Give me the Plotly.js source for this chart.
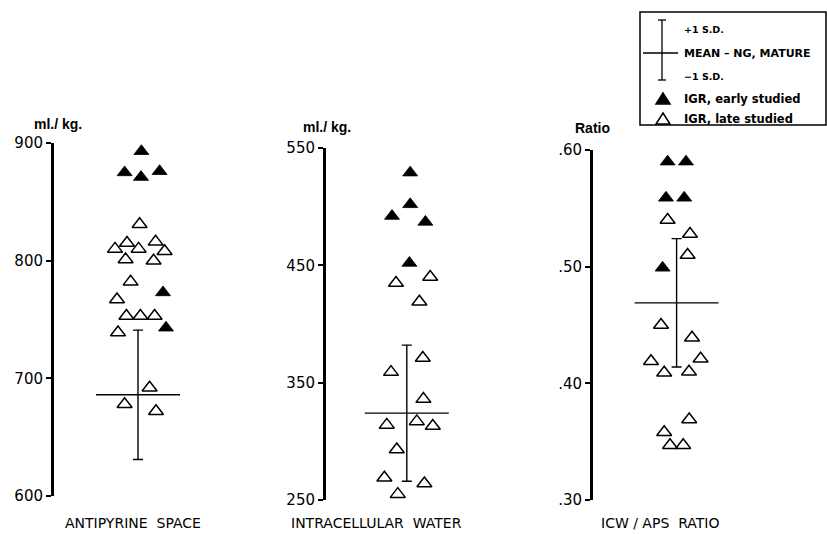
<!DOCTYPE html>
<html><head><meta charset="utf-8">
<script src="https://cdn.plot.ly/plotly-3.0.1.min.js"></script>
<style>html,body{margin:0;padding:0;background:#fff}#chart{width:827px;height:534px}</style>
</head><body><div id="chart"></div>
<script>
// ---------- DATA ----------
const panelTitles = ["ANTIPYRINE\u00a0 SPACE", "INTRACELLULAR\u00a0 WATER", "ICW\u00a0/\u00a0APS\u00a0 RATIO"];
const unitLabels = ["ml./ kg.", "ml./ kg.", "Ratio"];

// Antipyrine space (ml/kg)
const apsEarlyX = [0.17, -0.67, 0.15, 1.08, 1.25, 1.40];
const apsEarlyY = [893, 875, 871, 876, 773, 743];
const apsLateX = [0.08, -0.55, -1.15, 0.03, 0.88, 1.33, -0.62, 0.78, -0.37, -1.05, -0.58, 0.12, 0.83, -1.00, 0.58, -0.67, 0.90];
const apsLateY = [831, 815, 810, 810, 816, 808, 801, 800, 782, 767, 753, 753, 753, 739, 692, 678, 672];
const apsMean = 686, apsSD = 55;
const apsTicks = [600, 700, 800, 900];
const apsTickText = ["600", "700", "800", "900"];

// Intracellular water (ml/kg)
const icwEarlyX = [0.17, 0.17, -0.74, 0.93, 0.13];
const icwEarlyY = [529, 502, 492, 487, 452];
const icwLateX = [-0.54, 1.17, 0.63, 0.80, -0.79, 0.83, -1.00, 0.50, 1.30, -0.50, -1.12, 0.88, -0.45];
const icwLateY = [435, 440, 419, 371, 359, 336, 314, 317, 313, 293, 269, 264, 255];
const icwMean = 324, icwSD = 58;
const icwTicks = [250, 350, 450, 550];
const icwTickText = ["250", "350", "450", "550"];

// ICW / APS ratio
const ratioEarlyX = [-0.45, 0.47, -0.53, 0.38, -0.70];
const ratioEarlyY = [0.590, 0.590, 0.559, 0.559, 0.499];
const ratioLateX = [-0.45, 0.67, 0.55, -0.78, 0.77, -1.28, 1.20, -0.62, 0.62, 0.63, -0.62, -0.33, 0.33];
const ratioLateY = [0.540, 0.528, 0.510, 0.450, 0.439, 0.419, 0.421, 0.409, 0.410, 0.369, 0.358, 0.347, 0.347];
const ratioMean = 0.469, ratioSD = 0.055;
const ratioTicks = [0.30, 0.40, 0.50, 0.60];
const ratioTickText = [".30", ".40", ".50", ".60"];

const legendLabels = ["+1 S.D.", "MEAN \u2013 NG, MATURE", "\u22121 S.D.", "IGR, early studied", "IGR, late studied"];

// ---------- BUILD ----------
const W = 827, H = 534;
const px = x => x / W;
const py = y => 1 - y / H;
const FONT = "DejaVu Sans, Liberation Sans, Arial, sans-serif";

const panels = [
  {early:[apsEarlyX, apsEarlyY], late:[apsLateX, apsLateY], mean:apsMean, sd:apsSD, ticks:apsTicks, tt:apsTickText, range:[600,900],
   xdom:[54,254], ydom:[143,496], center:4.2},
  {early:[icwEarlyX, icwEarlyY], late:[icwLateX, icwLateY], mean:icwMean, sd:icwSD, ticks:icwTicks, tt:icwTickText, range:[250,550],
   xdom:[326,526], ydom:[148,500], center:4.04},
  {early:[ratioEarlyX, ratioEarlyY], late:[ratioLateX, ratioLateY], mean:ratioMean, sd:ratioSD, ticks:ratioTicks, tt:ratioTickText, range:[0.30,0.60],
   xdom:[593,793], ydom:[150,500], center:4.18}
];

const traces = [];
const layout = {
  width: W, height: H,
  margin: {l:0, r:0, t:0, b:0, pad:0},
  paper_bgcolor: "#fff", plot_bgcolor: "rgba(0,0,0,0)",
  showlegend: false,
  font: {family: FONT, color: "#000"},
  annotations: [], shapes: []
};

panels.forEach((p, i) => {
  const sfx = i === 0 ? "" : String(i + 1);
  const xa = "x" + sfx, ya = "y" + sfx;
  traces.push({
    type: "scatter", mode: "markers", xaxis: xa, yaxis: ya,
    x: [0], y: [p.mean],
    marker: {symbol: "line-ew-open", size: 60, color: "#000", line: {width: 1.4, color: "#000"}},
    error_y: {type: "data", array: [p.sd], visible: true, color: "#000", thickness: 1.4, width: 5},
    cliponaxis: false, hoverinfo: "skip"
  });
  traces.push({
    type: "scatter", mode: "markers", xaxis: xa, yaxis: ya,
    x: p.late[0], y: p.late[1],
    marker: {symbol: "triangle-up-open", size: 13, color: "#000", line: {width: 1.5, color: "#000"}},
    cliponaxis: false
  });
  traces.push({
    type: "scatter", mode: "markers", xaxis: xa, yaxis: ya,
    x: p.early[0], y: p.early[1],
    marker: {symbol: "triangle-up", size: 13, color: "#000", line: {width: 0.8, color: "#000"}},
    cliponaxis: false
  });
  layout["xaxis" + sfx] = {
    domain: [px(p.xdom[0]), px(p.xdom[1])], range: [-p.center, 10 - p.center],
    visible: false, fixedrange: true, anchor: ya
  };
  layout["yaxis" + sfx] = {
    domain: [py(p.ydom[1]), py(p.ydom[0])], range: p.range, anchor: xa,
    showline: true, linewidth: 3, linecolor: "#000", mirror: false,
    ticks: "outside", ticklen: 5, tickwidth: 2, tickcolor: "#000",
    tickvals: p.ticks, ticktext: p.tt, tickfont: {family: FONT, size: 15, color: "#000"},
    showgrid: false, zeroline: false, fixedrange: true
  };
});

// axis unit labels and bottom titles
const unitPos = [[58, 124], [327, 127], [592, 128]];
unitLabels.forEach((t, i) => {
  layout.annotations.push({text: "<b>" + t + "</b>", xref: "paper", yref: "paper", x: px(unitPos[i][0]), y: py(unitPos[i][1]),
    showarrow: false, xanchor: "center", yanchor: "middle", font: {family: "Liberation Sans, Arial, sans-serif", size: 14, color: "#000"}});
});
const titlePos = [[133, 523], [376, 523], [660, 523]];
panelTitles.forEach((t, i) => {
  layout.annotations.push({text: t, xref: "paper", yref: "paper", x: px(titlePos[i][0]), y: py(titlePos[i][1]),
    showarrow: false, xanchor: "center", yanchor: "middle", font: {family: FONT, size: 14, color: "#000"}});
});

// legend box
const L = (x0, y0, x1, y1, w) => ({type: "line", xref: "paper", yref: "paper", x0: px(x0), y0: py(y0), x1: px(x1), y1: py(y1), line: {color: "#000", width: w}});
layout.shapes.push({type: "rect", xref: "paper", yref: "paper", x0: px(640), y0: py(125), x1: px(826), y1: py(12), line: {color: "#000", width: 1.5}});
layout.shapes.push(L(662, 20, 662, 80, 1.3));
layout.shapes.push(L(658, 20, 666, 20, 1.3));
layout.shapes.push(L(658, 80, 666, 80, 1.3));
layout.shapes.push(L(643, 53, 678, 53, 1.3));
const tri = (cx, cy, filled) => ({
  type: "path", xref: "paper", yref: "paper",
  path: `M ${px(cx-7)},${py(cy+5)} L ${px(cx+7)},${py(cy+5)} L ${px(cx)},${py(cy-6)} Z`,
  fillcolor: filled ? "#000" : "rgba(0,0,0,0)", line: {color: "#000", width: 1.5}
});
layout.shapes.push(tri(663, 99, true));
layout.shapes.push(tri(663, 119, false));
const legY = [29, 53, 76, 99, 119];
const legSize = [9.5, 11, 9.5, 11.5, 11.5];
legendLabels.forEach((t, i) => {
  layout.annotations.push({text: "<b>" + t + "</b>", xref: "paper", yref: "paper", x: px(682), y: py(legY[i]),
    showarrow: false, xanchor: "left", yanchor: "middle", font: {family: FONT, size: legSize[i], color: "#000"}});
});

Plotly.newPlot("chart", traces, layout, {displayModeBar: false, staticPlot: true});
</script>
</body></html>
